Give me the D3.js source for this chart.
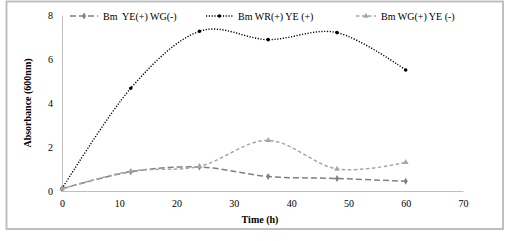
<!DOCTYPE html>
<html>
<head>
<meta charset="utf-8">
<script src="https://cdn.jsdelivr.net/npm/d3@7"></script>
<style>
  body { margin: 0; background: #fff; }
  svg text { font-family: "Liberation Serif", "Times New Roman", serif; fill: #000; }
</style>
</head>
<body>
<svg id="chart" width="507" height="241"></svg>
<script>
// time points (h)
const hours = [0, 12, 24, 36, 48, 60];
// absorbance at 600nm per strain
const ye_wg = [0.1, 0.87, 1.09, 0.66, 0.57, 0.44];
const wr_ye = [0.1, 4.67, 7.26, 6.88, 7.2, 5.5];
const wg_ye = [0.1, 0.9, 1.12, 2.3, 1.0, 1.3];
const seriesNames = ['Bm  YE(+) WG(-)', 'Bm WR(+) YE (+)', 'Bm WG(+) YE (-)'];
const xTicks = [0, 10, 20, 30, 40, 50, 60, 70];
const yTicks = [0, 2, 4, 6, 8];

const svg = d3.select('#chart');

// outer frame
svg.append('rect')
    .attr('x', 6.5).attr('y', 1.5)
    .attr('width', 496.5).attr('height', 227.5)
    .attr('fill', 'none')
    .attr('stroke', '#bfbfbf')
    .attr('stroke-width', 2);

const x = d3.scaleLinear().domain([0, 70]).range([62, 463]);
const y = d3.scaleLinear().domain([0, 8]).range([191, 15]);

// axes
const xAxis = d3.axisBottom(x).tickValues(xTicks).tickSize(0).tickPadding(9);
const yAxis = d3.axisLeft(y).tickValues(yTicks).tickSize(0).tickPadding(9);

const xg = svg.append('g').attr('transform', `translate(0,${y(0)})`).call(xAxis);
const yg = svg.append('g').attr('transform', `translate(${x(0)},0)`).call(yAxis);
[xg, yg].forEach(g => {
  g.attr('font-family', null);
  g.select('.domain').attr('stroke', '#bfbfbf');
  g.selectAll('text').style('font-size', '10px').attr('fill', '#000')
    .style('font-family', '"Liberation Serif", serif');
});

svg.append('text')
    .attr('x', 260).attr('y', 223)
    .attr('text-anchor', 'middle')
    .style('font-size', '10px').style('font-weight', 'bold')
    .text('Time (h)');

svg.append('text')
    .attr('transform', `translate(31,${y(4)}) rotate(-90)`)
    .attr('text-anchor', 'middle')
    .style('font-size', '10px').style('font-weight', 'bold')
    .text('Absorbance (600nm)');

const series = [
  {name: seriesNames[0], values: ye_wg, color: '#808080', dash: '6,3', width: 1.5, marker: 'diamond'},
  {name: seriesNames[1], values: wr_ye, color: '#000000', dash: '1.2,1.6', width: 1.4, marker: 'circle'},
  {name: seriesNames[2], values: wg_ye, color: '#a6a6a6', dash: '3.5,2.5', width: 1.5, marker: 'triangle'}
];

const line = d3.line()
    .x(d => x(d[0]))
    .y(d => y(d[1]))
    .curve(d3.curveCatmullRom.alpha(0));

const symbols = {diamond: d3.symbolDiamond, circle: d3.symbolCircle, triangle: d3.symbolTriangle};

series.forEach(s => {
  const pts = hours.map((h, i) => [h, s.values[i]]);
  svg.append('path')
      .datum(pts)
      .attr('d', line)
      .attr('fill', 'none')
      .attr('stroke', s.color)
      .attr('stroke-width', s.width)
      .attr('stroke-dasharray', s.dash);
  svg.append('g').selectAll('path')
      .data(pts)
      .join('path')
      .attr('transform', d => `translate(${x(d[0])},${y(d[1])})`)
      .attr('d', d3.symbol().type(symbols[s.marker]).size(s.marker === 'circle' ? 10 : 14))
      .attr('fill', s.color);
});

// legend
const legendPos = [{lx: 70, tx: 103}, {lx: 206, tx: 238}, {lx: 356, tx: 381}];
series.forEach((s, i) => {
  const p = legendPos[i];
  const g = svg.append('g').attr('transform', `translate(0,16)`);
  g.append('line')
      .attr('x1', p.lx).attr('x2', p.tx - 5)
      .attr('stroke', s.color)
      .attr('stroke-width', s.width)
      .attr('stroke-dasharray', s.dash);
  g.append('path')
      .attr('transform', `translate(${(p.lx + p.tx - 5) / 2},0)`)
      .attr('d', d3.symbol().type(symbols[s.marker]).size(s.marker === 'circle' ? 10 : 14))
      .attr('fill', s.color);
  g.append('text')
      .attr('x', p.tx).attr('y', 3.5)
      .style('font-size', '10px')
      .style('white-space', 'pre')
      .attr('xml:space', 'preserve')
      .text(s.name);
});
</script>
</body>
</html>
